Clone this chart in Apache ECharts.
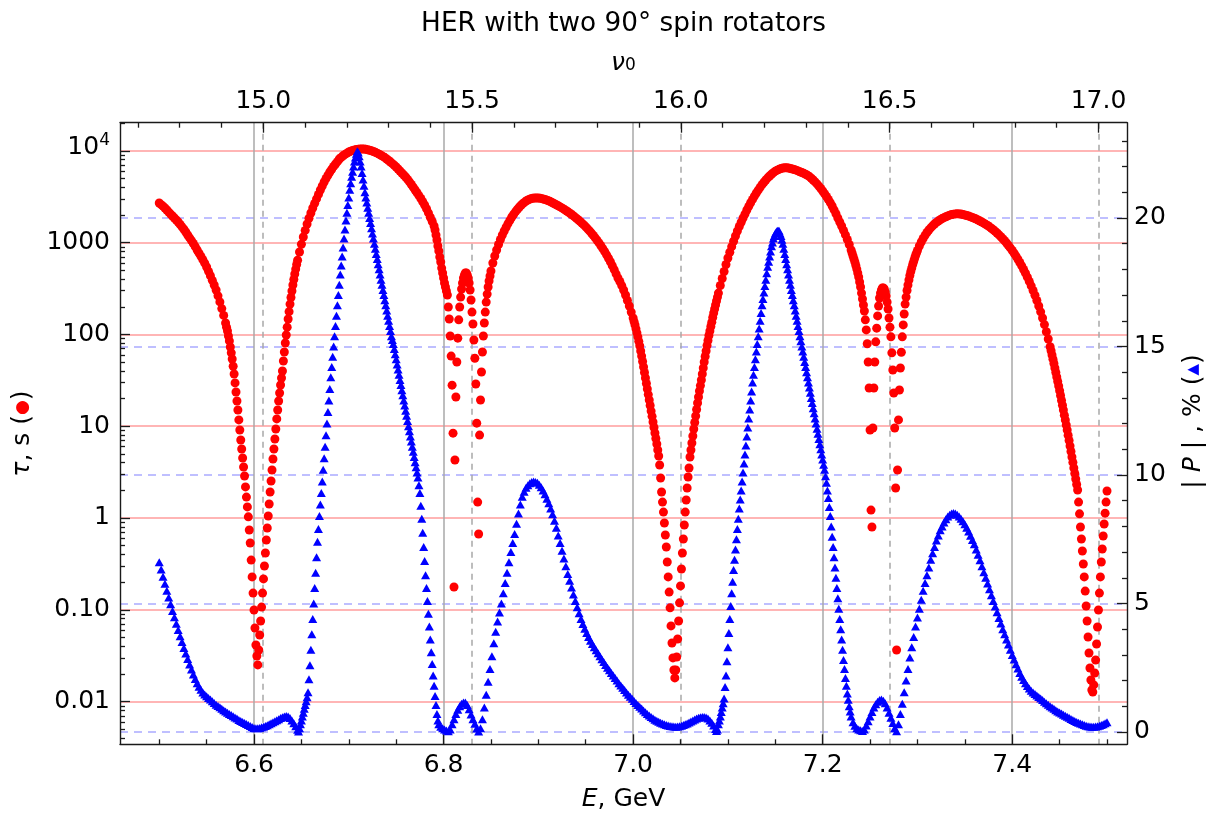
<!DOCTYPE html>
<html><head><meta charset="utf-8">
<script src="https://cdn.jsdelivr.net/npm/echarts@6/dist/echarts.min.js"></script>
<style>html,body{margin:0;padding:0;background:#fff}#c{width:1220px;height:829px}</style>
</head><body><div id="c"></div>
<script>
// ---- data: [E (GeV), tau (s)] ----
const tauPoints = [
[6.500,2700],[6.502,2590],[6.504,2495],[6.506,2380],[6.508,2265],[6.510,2150],[6.512,2046],[6.514,1950],[6.516,1853],[6.518,1762],
[6.520,1675],[6.522,1578],[6.524,1486],[6.526,1396],[6.528,1303],[6.530,1211],[6.532,1127],[6.534,1052],[6.536,977],[6.538,904],
[6.540,830],[6.542,767],[6.544,708],[6.546,652],[6.548,597],[6.550,542],[6.552,486],[6.554,436],[6.556,388],[6.558,345],
[6.560,305],[6.562,263],[6.564,226],[6.566,191],[6.568,161],[6.570,133],[6.571,120],[6.572,109],[6.573,96],[6.574,85],
[6.575,73],[6.576,63],[6.577,54],[6.578,45],[6.579,37],[6.580,29.6],[6.581,23.6],[6.582,18.8],[6.583,15.0],[6.584,11.7],
[6.585,9.1],[6.586,7.08],[6.587,5.65],[6.588,4.5],[6.589,3.59],[6.590,2.87],[6.591,2.18],[6.592,1.69],[6.593,1.32],[6.594,1.03],
[6.595,0.74],[6.596,0.534],[6.597,0.348],[6.598,0.228],[6.599,0.152],[6.600,0.0995],[6.601,0.0634],[6.602,0.0414],[6.603,0.0314],[6.604,0.0251],
[6.605,0.0365],[6.606,0.0531],[6.607,0.0755],[6.608,0.107],[6.609,0.152],[6.610,0.217],[6.611,0.300],[6.612,0.416],[6.613,0.576],[6.614,0.778],
[6.615,1.05],[6.616,1.42],[6.617,1.92],[6.618,2.53],[6.619,3.33],[6.620,4.39],[6.621,5.65],[6.622,7.26],[6.623,9.31],[6.624,12.0],
[6.625,15.0],[6.626,18.8],[6.627,23.0],[6.628,28.1],[6.629,33.5],[6.630,39.9],[6.631,51.3],[6.632,64.3],[6.633,80.5],[6.634,98.5],
[6.635,120],[6.636,147],[6.637,177],[6.638,214],[6.639,252],[6.640,297],[6.641,345],[6.642,396],[6.643,455],[6.644,515],
[6.645,577],[6.646,643],[6.648,790],[6.650,959],[6.652,1151],[6.654,1358],[6.656,1595],[6.658,1841],[6.660,2100],[6.662,2382],
[6.664,2679],[6.666,3000],[6.668,3350],[6.670,3740],[6.672,4140],[6.674,4571],[6.676,5000],[6.678,5420],[6.680,5870],[6.682,6300],
[6.684,6760],[6.686,7180],[6.688,7620],[6.690,8140],[6.692,8470],[6.694,8830],[6.696,9140],[6.698,9420],[6.700,9700],[6.702,9910],
[6.704,10090],[6.706,10230],[6.708,10350],[6.710,10420],[6.712,10470],[6.714,10470],[6.716,10440],[6.718,10380],[6.720,10280],[6.722,10140],
[6.724,10000],[6.726,9820],[6.728,9620],[6.730,9420],[6.732,9200],[6.734,8950],[6.736,8690],[6.738,8430],[6.740,8140],[6.742,7850],
[6.744,7550],[6.746,7240],[6.748,6970],[6.750,6670],[6.752,6340],[6.754,6030],[6.756,5730],[6.758,5450],[6.760,5190],[6.762,4890],
[6.764,4590],[6.766,4300],[6.768,4020],[6.770,3740],[6.772,3490],[6.774,3250],[6.776,3020],[6.778,2790],[6.780,2570],[6.782,2340],
[6.784,2110],[6.786,1890],[6.788,1700],[6.790,1517],[6.791,1371],[6.792,1211],[6.793,1067],[6.794,918],[6.795,811],[6.796,697],
[6.797,615],[6.798,528],[6.799,467],[6.800,411],[6.801,363],[6.802,328],[6.803,297],[6.804,269],[6.805,199],[6.806,147],
[6.807,96],[6.808,58],[6.809,28],[6.810,8.4],[6.811,0.177],[6.812,4.28],[6.813,20.8],[6.814,50],[6.815,91],[6.816,144],
[6.817,199],[6.818,255],[6.819,312],[6.820,363],[6.821,411],[6.822,444],[6.823,467],[6.824,467],[6.825,444],[6.826,411],
[6.827,363],[6.828,305],[6.829,237],[6.830,175],[6.831,130],[6.832,87],[6.833,55],[6.834,28.8],[6.835,10.8],[6.836,1.49],
[6.837,0.67],[6.838,8.0],[6.839,19.3],[6.840,38.9],[6.841,64.3],[6.842,96],[6.843,133],[6.844,175],[6.845,225],[6.846,275],
[6.847,328],[6.848,382],[6.849,433],[6.850,491],[6.852,600],[6.854,714],[6.856,830],[6.858,953],[6.860,1081],[6.862,1211],
[6.864,1337],[6.866,1472],[6.868,1610],[6.870,1754],[6.872,1900],[6.874,2037],[6.876,2177],[6.878,2312],[6.880,2443],[6.882,2570],
[6.884,2680],[6.886,2780],[6.888,2875],[6.890,2950],[6.892,3000],[6.894,3040],[6.896,3060],[6.898,3060],[6.900,3060],[6.902,3040],
[6.904,3010],[6.906,2970],[6.908,2925],[6.910,2875],[6.912,2820],[6.914,2755],[6.916,2685],[6.918,2620],[6.920,2555],[6.922,2485],
[6.924,2417],[6.926,2345],[6.928,2275],[6.930,2208],[6.932,2138],[6.934,2065],[6.936,1993],[6.938,1920],[6.940,1845],[6.942,1772],
[6.944,1702],[6.946,1630],[6.948,1560],[6.950,1486],[6.952,1413],[6.954,1340],[6.956,1270],[6.958,1197],[6.960,1127],[6.962,1059],
[6.964,993],[6.966,925],[6.968,861],[6.970,798],[6.972,736],[6.974,676],[6.976,618],[6.978,561],[6.980,508],[6.982,457],
[6.984,411],[6.986,377],[6.988,340],[6.990,305],[6.992,269],[6.994,234],[6.996,204],[6.998,175],[7.000,151],[7.001,138],
[7.002,127],[7.003,115],[7.004,104],[7.005,94],[7.006,84],[7.007,75],[7.008,66],[7.009,58],[7.010,50.7],[7.011,44.2],
[7.012,38.5],[7.013,33.5],[7.014,29.2],[7.015,25.4],[7.016,22.1],[7.017,19.3],[7.018,16.8],[7.019,14.6],[7.020,12.8],[7.021,11.1],
[7.022,9.68],[7.023,8.43],[7.024,7.34],[7.025,6.40],[7.026,5.51],[7.027,4.73],[7.028,3.78],[7.029,2.73],[7.030,1.92],[7.031,1.49],
[7.032,1.16],[7.033,0.883],[7.034,0.653],[7.035,0.483],[7.036,0.332],[7.037,0.228],[7.038,0.156],[7.039,0.105],[7.040,0.0667],[7.041,0.0435],
[7.042,0.0299],[7.043,0.0221],[7.044,0.0181],[7.045,0.0221],[7.046,0.0306],[7.047,0.0481],[7.048,0.0755],[7.049,0.119],[7.050,0.182],[7.051,0.278],
[7.052,0.416],[7.053,0.590],[7.054,0.839],[7.055,1.16],[7.056,1.57],[7.057,2.12],[7.058,2.80],[7.059,3.50],[7.060,4.62],[7.061,5.51],
[7.062,6.56],[7.063,7.82],[7.064,9.31],[7.065,11.0],[7.066,12.9],[7.067,15.2],[7.068,17.9],[7.069,20.8],[7.070,24.2],[7.071,27.7],
[7.072,31.9],[7.073,37.0],[7.074,43.0],[7.075,50.0],[7.076,57.4],[7.077,65.9],[7.078,75.7],[7.079,85.9],[7.080,97.3],[7.081,109],
[7.082,122],[7.083,136],[7.084,153],[7.085,171],[7.086,189],[7.087,209],[7.088,231],[7.089,255],[7.090,282],[7.092,341],
[7.094,406],[7.096,484],[7.098,577],[7.100,679],[7.102,786],[7.104,904],[7.106,1035],[7.108,1180],[7.110,1337],[7.112,1497],
[7.114,1668],[7.116,1853],[7.118,2046],[7.120,2265],[7.122,2485],[7.124,2715],[7.126,2955],[7.128,3213],[7.130,3470],[7.132,3730],
[7.134,4000],[7.136,4275],[7.138,4540],[7.140,4810],[7.142,5080],[7.144,5320],[7.146,5550],[7.148,5780],[7.150,6000],[7.152,6150],
[7.154,6280],[7.156,6400],[7.158,6480],[7.160,6520],[7.162,6520],[7.164,6480],[7.166,6420],[7.168,6340],[7.170,6250],[7.172,6150],
[7.174,6040],[7.176,5920],[7.178,5800],[7.180,5680],[7.182,5550],[7.184,5400],[7.186,5240],[7.188,5025],[7.190,4810],[7.192,4580],
[7.194,4360],[7.196,4120],[7.198,3890],[7.200,3650],[7.202,3410],[7.204,3180],[7.206,2950],[7.208,2730],[7.210,2505],[7.212,2275],
[7.214,2060],[7.216,1853],[7.218,1675],[7.220,1517],[7.222,1361],[7.224,1216],[7.226,1081],[7.228,953],[7.230,830],[7.231,771],
[7.232,714],[7.233,662],[7.234,615],[7.235,563],[7.236,515],[7.237,467],[7.238,422],[7.239,372],[7.240,328],[7.241,282],
[7.242,243],[7.243,209],[7.244,180],[7.245,144],[7.246,112],[7.247,79],[7.248,50],[7.249,26.1],[7.250,9.09],[7.251,1.22],
[7.252,0.798],[7.253,9.55],[7.254,26.1],[7.255,50],[7.256,83],[7.257,117],[7.258,159],[7.259,204],[7.260,249],[7.261,282],
[7.262,305],[7.263,320],[7.264,320],[7.265,312],[7.266,290],[7.267,262],[7.268,225],[7.269,189],[7.270,151],[7.271,120],
[7.272,94],[7.273,63],[7.274,41],[7.275,23],[7.276,9.55],[7.277,2.12],[7.278,0.0365],[7.279,3.33],[7.280,11.7],[7.281,24.8],
[7.282,43],[7.283,64],[7.284,94],[7.285,127],[7.286,167],[7.287,214],[7.288,255],[7.289,301],[7.290,345],[7.291,391],
[7.292,438],[7.293,484],[7.294,529],[7.295,577],[7.296,622],[7.297,671],[7.298,723],[7.299,771],[7.300,820],[7.302,918],
[7.304,1016],[7.306,1109],[7.308,1200],[7.310,1288],[7.312,1371],[7.314,1449],[7.316,1524],[7.318,1595],[7.320,1660],[7.322,1718],
[7.324,1775],[7.326,1825],[7.328,1871],[7.330,1914],[7.332,1954],[7.334,1990],[7.336,2018],[7.338,2040],[7.340,2055],[7.342,2060],
[7.344,2055],[7.346,2046],[7.348,2024],[7.350,2000],[7.352,1974],[7.354,1945],[7.356,1910],[7.358,1877],[7.360,1841],[7.362,1803],
[7.364,1762],[7.366,1718],[7.368,1675],[7.370,1630],[7.372,1582],[7.374,1535],[7.376,1486],[7.378,1435],[7.380,1380],[7.382,1327],
[7.384,1271],[7.386,1216],[7.388,1159],[7.390,1102],[7.392,1047],[7.394,990],[7.396,931],[7.398,875],[7.400,820],[7.402,766],
[7.404,713],[7.406,659],[7.408,608],[7.410,558],[7.412,510],[7.414,465],[7.416,420],[7.418,378],[7.420,338],[7.422,301],
[7.424,267],[7.426,234],[7.428,204],[7.430,176],[7.432,151],[7.434,128],[7.436,107],[7.438,89],[7.440,73.3],[7.441,66.3],
[7.442,59.7],[7.443,53.7],[7.444,48.2],[7.445,43.0],[7.446,38.5],[7.447,34.4],[7.448,30.7],[7.449,27.4],[7.450,24.4],[7.451,21.6],
[7.452,19.1],[7.453,16.9],[7.454,15.0],[7.455,13.2],[7.456,11.7],[7.457,10.3],[7.458,9.10],[7.459,7.98],[7.460,6.98],[7.461,6.08],
[7.462,5.30],[7.463,4.62],[7.464,4.03],[7.465,3.50],[7.466,3.05],[7.467,2.66],[7.468,2.32],[7.469,2.02],[7.470,1.49],[7.471,1.11],
[7.472,0.798],[7.473,0.590],[7.474,0.437],[7.475,0.315],[7.476,0.228],[7.477,0.160],[7.478,0.110],[7.479,0.0755],[7.480,0.0506],[7.481,0.0338],
[7.482,0.0232],[7.483,0.0172],[7.484,0.0134],[7.485,0.0127],[7.486,0.0152],[7.487,0.0205],[7.488,0.0284],[7.489,0.0424],[7.490,0.0650],[7.491,0.0995],
[7.492,0.152],[7.493,0.228],[7.494,0.332],[7.495,0.460],[7.496,0.637],[7.497,0.861],[7.498,1.13],[7.499,1.49],[7.500,1.97]
];
// ---- [E (GeV), |P| (%)] ----
const polPoints = [
[6.500,6.6],[6.502,6.32],[6.504,6.04],[6.506,5.77],[6.508,5.5],[6.510,5.23],[6.512,4.97],[6.514,4.71],[6.516,4.46],[6.518,4.21],
[6.520,3.97],[6.522,3.73],[6.524,3.5],[6.526,3.27],[6.528,3.05],[6.530,2.84],[6.532,2.63],[6.534,2.43],[6.536,2.24],[6.538,2.06],
[6.540,1.9],[6.542,1.76],[6.544,1.64],[6.546,1.54],[6.548,1.46],[6.550,1.39],[6.552,1.32],[6.554,1.26],[6.556,1.2],[6.558,1.13],
[6.560,1.06],[6.562,1.01],[6.564,0.96],[6.566,0.9],[6.568,0.85],[6.570,0.8],[6.572,0.75],[6.574,0.7],[6.576,0.66],[6.578,0.61],
[6.580,0.56],[6.582,0.52],[6.584,0.47],[6.586,0.43],[6.588,0.39],[6.590,0.35],[6.592,0.31],[6.594,0.27],[6.596,0.23],[6.598,0.19],
[6.600,0.16],[6.602,0.15],[6.604,0.15],[6.606,0.16],[6.608,0.18],[6.610,0.2],[6.612,0.23],[6.614,0.26],[6.616,0.3],[6.618,0.34],
[6.620,0.38],[6.622,0.42],[6.624,0.46],[6.626,0.5],[6.628,0.54],[6.630,0.57],[6.632,0.6],[6.634,0.62],[6.636,0.6],[6.638,0.54],
[6.640,0.45],[6.642,0.34],[6.644,0.22],[6.646,0.09],[6.647,0.02],[6.648,0.15],[6.649,0.3],[6.650,0.45],[6.651,0.6],[6.652,0.75],
[6.653,0.9],[6.654,1.05],[6.655,1.2],[6.656,1.35],[6.657,1.55],[6.658,2.05],[6.659,2.6],[6.660,3.2],[6.661,3.8],[6.662,4.4],
[6.663,5.0],[6.664,5.6],[6.665,6.2],[6.666,6.8],[6.667,7.4],[6.668,7.9],[6.669,8.4],[6.670,8.85],[6.671,9.3],[6.672,9.75],
[6.673,10.2],[6.674,10.65],[6.675,11.1],[6.676,11.55],[6.677,12.0],[6.678,12.45],[6.679,12.9],[6.680,13.35],[6.681,13.8],[6.682,14.2],
[6.683,14.6],[6.684,15.0],[6.685,15.4],[6.686,15.8],[6.687,16.2],[6.688,16.6],[6.689,17.0],[6.690,17.4],[6.691,17.8],[6.692,18.15],
[6.693,18.5],[6.694,18.85],[6.695,19.2],[6.696,19.55],[6.697,19.9],[6.698,20.2],[6.699,20.5],[6.700,20.8],[6.701,21.1],[6.702,21.35],
[6.703,21.6],[6.704,21.8],[6.705,22.0],[6.706,22.2],[6.707,22.35],[6.708,22.5],[6.709,22.6],[6.710,22.55],[6.711,22.4],[6.712,22.2],
[6.713,22.0],[6.714,21.75],[6.715,21.5],[6.716,21.25],[6.717,21.0],[6.718,20.8],[6.719,20.6],[6.720,20.4],[6.721,20.2],[6.722,20.0],
[6.723,19.8],[6.724,19.6],[6.725,19.4],[6.726,19.2],[6.727,19.0],[6.728,18.8],[6.729,18.6],[6.730,18.4],[6.731,18.2],[6.732,18.0],
[6.733,17.8],[6.734,17.6],[6.735,17.4],[6.736,17.2],[6.737,17.0],[6.738,16.8],[6.739,16.6],[6.740,16.4],[6.741,16.2],[6.742,16.0],
[6.743,15.8],[6.744,15.6],[6.745,15.4],[6.746,15.25],[6.747,15.1],[6.748,14.9],[6.749,14.7],[6.750,14.5],[6.751,14.3],[6.752,14.1],
[6.753,13.9],[6.754,13.7],[6.755,13.5],[6.756,13.3],[6.757,13.1],[6.758,12.9],[6.759,12.7],[6.760,12.5],[6.761,12.3],[6.762,12.1],
[6.763,11.9],[6.764,11.7],[6.765,11.5],[6.766,11.3],[6.767,11.1],[6.768,10.9],[6.769,10.7],[6.770,10.5],[6.771,10.3],[6.772,10.1],
[6.773,9.9],[6.774,9.6],[6.775,9.3],[6.776,8.8],[6.777,8.3],[6.778,7.75],[6.779,7.2],[6.780,6.65],[6.781,6.1],[6.782,5.6],
[6.783,5.1],[6.784,4.6],[6.785,4.1],[6.786,3.6],[6.787,3.1],[6.788,2.65],[6.789,2.2],[6.790,1.8],[6.791,1.4],[6.792,1.05],
[6.793,0.7],[6.794,0.45],[6.795,0.3],[6.797,0.2],[6.799,0.15],[6.801,0.1],[6.803,0.06],[6.805,0.03],[6.807,0.1],[6.809,0.3],
[6.811,0.5],[6.813,0.7],[6.815,0.87],[6.817,1.0],[6.819,1.1],[6.821,1.15],[6.823,1.15],[6.825,1.05],[6.827,0.88],[6.829,0.68],
[6.831,0.5],[6.833,0.32],[6.835,0.14],[6.837,0.02],[6.839,0.15],[6.841,0.5],[6.843,0.95],[6.845,1.45],[6.847,1.95],[6.849,2.45],
[6.851,2.95],[6.853,3.45],[6.855,3.9],[6.857,4.3],[6.859,4.65],[6.861,5.0],[6.863,5.4],[6.865,5.8],[6.867,6.2],[6.869,6.6],
[6.871,7.0],[6.873,7.35],[6.875,7.7],[6.877,8.1],[6.879,8.5],[6.881,8.85],[6.883,9.15],[6.885,9.35],[6.887,9.5],[6.889,9.6],
[6.891,9.68],[6.893,9.73],[6.895,9.75],[6.897,9.73],[6.899,9.7],[6.901,9.62],[6.903,9.52],[6.905,9.4],[6.907,9.25],[6.909,9.08],
[6.911,8.9],[6.913,8.7],[6.915,8.47],[6.917,8.22],[6.919,7.95],[6.921,7.65],[6.923,7.35],[6.925,7.05],[6.927,6.75],[6.929,6.45],
[6.931,6.15],[6.933,5.88],[6.935,5.62],[6.937,5.35],[6.939,5.1],[6.941,4.85],[6.943,4.62],[6.945,4.4],[6.947,4.2],[6.949,4.02],
[6.951,3.85],[6.953,3.7],[6.955,3.55],[6.957,3.42],[6.959,3.3],[6.961,3.18],[6.963,3.06],[6.965,2.95],[6.967,2.83],[6.969,2.72],
[6.971,2.61],[6.973,2.5],[6.975,2.4],[6.977,2.3],[6.979,2.2],[6.981,2.1],[6.983,2.0],[6.985,1.9],[6.987,1.81],[6.989,1.72],
[6.991,1.63],[6.993,1.54],[6.995,1.45],[6.997,1.37],[6.999,1.29],[7.001,1.21],[7.003,1.13],[7.005,1.05],[7.007,0.98],[7.009,0.91],
[7.011,0.84],[7.013,0.77],[7.015,0.7],[7.017,0.64],[7.019,0.58],[7.021,0.53],[7.023,0.48],[7.025,0.44],[7.027,0.4],[7.029,0.36],
[7.031,0.33],[7.033,0.3],[7.035,0.27],[7.037,0.25],[7.039,0.23],[7.041,0.22],[7.043,0.21],[7.045,0.2],[7.047,0.21],[7.049,0.22],
[7.051,0.24],[7.053,0.27],[7.055,0.3],[7.057,0.33],[7.059,0.37],[7.061,0.41],[7.063,0.45],[7.065,0.49],[7.067,0.52],[7.069,0.55],
[7.071,0.57],[7.073,0.58],[7.075,0.58],[7.077,0.56],[7.079,0.52],[7.081,0.45],[7.083,0.36],[7.085,0.25],[7.087,0.12],[7.088,0.04],
[7.089,0.1],[7.090,0.3],[7.091,0.45],[7.092,0.6],[7.093,0.78],[7.094,0.95],[7.095,1.12],[7.096,1.3],[7.097,1.75],[7.098,2.2],
[7.099,2.75],[7.100,3.3],[7.101,3.85],[7.102,4.4],[7.103,4.9],[7.104,5.4],[7.105,5.85],[7.106,6.3],[7.107,6.7],[7.108,7.1],
[7.109,7.5],[7.110,7.9],[7.111,8.3],[7.112,8.7],[7.113,9.05],[7.114,9.4],[7.115,9.75],[7.116,10.1],[7.117,10.45],[7.118,10.8],
[7.119,11.15],[7.120,11.5],[7.121,11.85],[7.122,12.2],[7.123,12.55],[7.124,12.9],[7.125,13.25],[7.126,13.6],[7.127,13.9],[7.128,14.2],
[7.129,14.5],[7.130,14.8],[7.131,15.1],[7.132,15.4],[7.133,15.7],[7.134,16.0],[7.135,16.3],[7.136,16.6],[7.137,16.85],[7.138,17.1],
[7.139,17.35],[7.140,17.6],[7.141,17.85],[7.142,18.1],[7.143,18.3],[7.144,18.5],[7.145,18.7],[7.146,18.9],[7.147,19.05],[7.148,19.2],
[7.149,19.3],[7.150,19.4],[7.151,19.45],[7.152,19.5],[7.153,19.5],[7.154,19.5],[7.155,19.4],[7.156,19.3],[7.157,19.15],[7.158,19.0],
[7.159,18.8],[7.160,18.6],[7.161,18.4],[7.162,18.2],[7.163,18.0],[7.164,17.8],[7.165,17.6],[7.166,17.4],[7.167,17.2],[7.168,17.0],
[7.169,16.8],[7.170,16.6],[7.171,16.4],[7.172,16.2],[7.173,16.0],[7.174,15.8],[7.175,15.6],[7.176,15.4],[7.177,15.2],[7.178,15.0],
[7.179,14.8],[7.180,14.6],[7.181,14.4],[7.182,14.2],[7.183,14.0],[7.184,13.8],[7.185,13.6],[7.186,13.4],[7.187,13.2],[7.188,13.0],
[7.189,12.8],[7.190,12.6],[7.191,12.4],[7.192,12.2],[7.193,12.0],[7.194,11.8],[7.195,11.6],[7.196,11.4],[7.197,11.2],[7.198,11.0],
[7.199,10.8],[7.200,10.6],[7.201,10.4],[7.202,10.2],[7.203,9.95],[7.204,9.7],[7.205,9.4],[7.206,9.1],[7.207,8.75],[7.208,8.4],
[7.209,8.0],[7.210,7.6],[7.211,7.2],[7.212,6.8],[7.213,6.4],[7.214,6.0],[7.215,5.6],[7.216,5.2],[7.217,4.8],[7.218,4.4],
[7.219,4.0],[7.220,3.6],[7.221,3.2],[7.222,2.8],[7.223,2.45],[7.224,2.1],[7.225,1.8],[7.226,1.5],[7.227,1.25],[7.228,1.0],
[7.229,0.8],[7.230,0.6],[7.232,0.38],[7.234,0.24],[7.236,0.15],[7.238,0.1],[7.240,0.07],[7.242,0.04],[7.244,0.1],[7.246,0.25],
[7.248,0.42],[7.250,0.6],[7.252,0.78],[7.254,0.95],[7.256,1.08],[7.258,1.18],[7.260,1.24],[7.262,1.26],[7.264,1.22],[7.266,1.12],
[7.268,0.95],[7.270,0.75],[7.272,0.55],[7.274,0.35],[7.276,0.15],[7.278,0.03],[7.280,0.3],[7.282,0.7],[7.284,1.1],[7.286,1.55],
[7.288,2.0],[7.290,2.45],[7.292,2.9],[7.294,3.3],[7.296,3.7],[7.298,4.1],[7.300,4.45],[7.302,4.8],[7.304,5.15],[7.306,5.5],
[7.308,5.8],[7.310,6.1],[7.312,6.4],[7.314,6.7],[7.316,6.95],[7.318,7.2],[7.320,7.45],[7.322,7.65],[7.324,7.85],[7.326,8.0],
[7.328,8.15],[7.330,8.28],[7.332,8.38],[7.334,8.45],[7.336,8.5],[7.338,8.52],[7.340,8.5],[7.342,8.45],[7.344,8.38],[7.346,8.3],
[7.348,8.2],[7.350,8.08],[7.352,7.95],[7.354,7.8],[7.356,7.64],[7.358,7.47],[7.360,7.3],[7.362,7.1],[7.364,6.9],[7.366,6.68],
[7.368,6.45],[7.370,6.22],[7.372,6.0],[7.374,5.78],[7.376,5.55],[7.378,5.32],[7.380,5.1],[7.382,4.88],[7.384,4.66],[7.386,4.44],
[7.388,4.22],[7.390,4.0],[7.392,3.8],[7.394,3.6],[7.396,3.4],[7.398,3.2],[7.400,3.0],[7.402,2.82],[7.404,2.64],[7.406,2.47],
[7.408,2.3],[7.410,2.15],[7.412,2.02],[7.414,1.9],[7.416,1.79],[7.418,1.69],[7.420,1.6],[7.422,1.54],[7.424,1.48],[7.426,1.42],
[7.428,1.36],[7.430,1.3],[7.432,1.24],[7.434,1.18],[7.436,1.12],[7.438,1.06],[7.440,1.0],[7.442,0.95],[7.444,0.9],[7.446,0.85],
[7.448,0.8],[7.450,0.76],[7.452,0.72],[7.454,0.67],[7.456,0.63],[7.458,0.59],[7.460,0.55],[7.462,0.51],[7.464,0.47],[7.466,0.43],
[7.468,0.39],[7.470,0.36],[7.472,0.33],[7.474,0.3],[7.476,0.27],[7.478,0.24],[7.480,0.22],[7.482,0.21],[7.484,0.2],[7.486,0.2],
[7.488,0.21],[7.490,0.22],[7.492,0.24],[7.494,0.27],[7.496,0.3],[7.498,0.34],[7.500,0.38]
];

// ---- axis ticks / labels ----
const eTicks = [6.6, 6.8, 7.0, 7.2, 7.4];
const eMinorTicks = [6.5, 6.55, 6.65, 6.7, 6.75, 6.85, 6.9, 6.95, 7.05, 7.1, 7.15, 7.25, 7.3, 7.35, 7.45, 7.5];
const nuTicks = [15.0, 15.5, 16.0, 16.5, 17.0];
const nuMinorTicks = [14.7, 14.8, 14.9, 15.1, 15.2, 15.3, 15.4, 15.6, 15.7, 15.8, 15.9, 16.1, 16.2, 16.3, 16.4, 16.6, 16.7, 16.8, 16.9];
const tauTicks = [0.01, 0.1, 1, 10, 100, 1000, 10000];
const tauTickLabels = ['0.01', '0.10', '1', '10', '100', '1000', '{b|10}{s|4}'];
const tauMinorTicks = [0.004,0.005,0.006,0.007,0.008,0.009,0.02,0.03,0.04,0.05,0.06,0.07,0.08,0.09,
  0.2,0.3,0.4,0.5,0.6,0.7,0.8,0.9,2,3,4,5,6,7,8,9,20,30,40,50,60,70,80,90,
  200,300,400,500,600,700,800,900,2000,3000,4000,5000,6000,7000,8000,9000,20000];
const polTicks = [0, 5, 10, 15, 20];
const polMinorTicks = [1,2,3,4,6,7,8,9,11,12,13,14,16,17,18,19,21,22,23];

// axis ranges
const E_MIN = 6.4586, E_MAX = 7.5211;
const E_PER_NU = 0.440649;
const TAU_MIN = 0.003426, TAU_MAX = 20240;
const POL_MIN = -0.479, POL_MAX = 23.707;

const FONT = "'DejaVu Sans', sans-serif";
const FRAME = { color: '#1a1a1a', width: 1.4 };
const TICKSTYLE = { color: '#1a1a1a', width: 1.3 };

const chart = echarts.init(document.getElementById('c'), null, { renderer: 'canvas' });

function findIdx(arr, v) {
  for (let i = 0; i < arr.length; i++) {
    if (Math.abs(Math.log10(arr[i]) - Math.log10(v)) < 1e-6) return i;
  }
  return -1;
}

const option = {
  animation: false,
  backgroundColor: '#ffffff',
  title: {
    text: 'HER with two 90° spin rotators',
    left: 623.5, top: 11, padding: 0, textAlign: 'center',
    textStyle: { fontFamily: FONT, fontSize: 26.3, fontWeight: 'normal', color: '#000' }
  },
  grid: { left: 120, right: 93, top: 122.7, bottom: 84.7, containLabel: false, outerBoundsMode: 'none' },
  xAxis: [
    {
      type: 'value', position: 'bottom', min: E_MIN, max: E_MAX,
      axisLine: { show: true, onZero: false, lineStyle: FRAME },
      axisTick: { show: true, inside: true, length: 10, customValues: eTicks, lineStyle: TICKSTYLE },
      axisLabel: { show: true, customValues: eTicks, formatter: v => v.toFixed(1), fontFamily: FONT, fontSize: 25, color: '#000', margin: 9 },
      splitLine: { show: true, lineStyle: { color: '#a8a8a8', width: 1.5 } },
      name: '{i|E}, GeV', nameLocation: 'middle', nameGap: 43,
      nameTextStyle: { fontFamily: FONT, fontSize: 25, color: '#000', rich: { i: { fontFamily: FONT, fontSize: 25, fontStyle: 'italic', color: '#000' } } }
    },
    {
      type: 'value', position: 'bottom', min: E_MIN, max: E_MAX,
      axisLine: { show: false, onZero: false },
      axisTick: { show: true, inside: true, length: 5, customValues: eMinorTicks, lineStyle: TICKSTYLE },
      axisLabel: { show: false }, splitLine: { show: false }
    },
    {
      type: 'value', position: 'top', min: E_MIN / E_PER_NU, max: E_MAX / E_PER_NU,
      axisLine: { show: true, onZero: false, lineStyle: FRAME },
      axisTick: { show: true, inside: true, length: 10, customValues: nuTicks, lineStyle: TICKSTYLE },
      axisLabel: { show: true, customValues: nuTicks, formatter: v => v.toFixed(1), fontFamily: FONT, fontSize: 25, color: '#000', margin: 9 },
      splitLine: { show: true, lineStyle: { color: '#a8a8a8', width: 1.5, type: [6, 5] } },
      name: '{n|ν}{s|0}', nameLocation: 'middle', nameGap: 43,
      nameTextStyle: { fontFamily: FONT, fontSize: 25, color: '#000',
        rich: { n: { fontFamily: FONT, fontSize: 25, fontStyle: 'italic', color: '#000', padding: [0, 0, 4, 0] },
                s: { fontFamily: FONT, fontSize: 17, color: '#000' } } }
    },
    {
      type: 'value', position: 'top', min: E_MIN / E_PER_NU, max: E_MAX / E_PER_NU,
      axisLine: { show: false, onZero: false },
      axisTick: { show: true, inside: true, length: 5, customValues: nuMinorTicks, lineStyle: TICKSTYLE },
      axisLabel: { show: false }, splitLine: { show: false }
    }
  ],
  yAxis: [
    {
      type: 'log', logBase: 10, position: 'left', min: TAU_MIN, max: TAU_MAX,
      axisLine: { show: true, onZero: false, lineStyle: FRAME },
      axisTick: { show: true, inside: true, length: 10, customValues: tauTicks, lineStyle: TICKSTYLE },
      axisLabel: { show: true, customValues: tauTicks, margin: 10, fontFamily: FONT, fontSize: 25, color: '#000',
        formatter: v => { const i = findIdx(tauTicks, v); return i >= 0 ? tauTickLabels[i] : ''; },
        rich: { b: { fontFamily: FONT, fontSize: 25, color: '#000', padding: [0, 0, 6, 0] },
                s: { fontFamily: FONT, fontSize: 17, color: '#000', padding: [0, 0, 20, 0] } } },
      splitLine: { show: true, lineStyle: { color: '#ff9c9c', width: 1.5 } },
      name: '{i|τ}, s ({r|●})', nameLocation: 'middle', nameGap: 81, nameRotate: 90,
      nameTextStyle: { fontFamily: FONT, fontSize: 25, color: '#000',
        rich: { i: { fontFamily: FONT, fontSize: 25, fontStyle: 'italic', color: '#000' },
                r: { fontFamily: FONT, fontSize: 17, color: '#ff0000' } } }
    },
    {
      type: 'log', logBase: 10, position: 'left', min: TAU_MIN, max: TAU_MAX,
      axisLine: { show: false, onZero: false },
      axisTick: { show: true, inside: true, length: 5, customValues: tauMinorTicks, lineStyle: TICKSTYLE },
      axisLabel: { show: false }, splitLine: { show: false }
    },
    {
      type: 'value', position: 'right', min: POL_MIN, max: POL_MAX,
      axisLine: { show: true, onZero: false, lineStyle: FRAME },
      axisTick: { show: true, inside: true, length: 10, customValues: polTicks, lineStyle: TICKSTYLE },
      axisLabel: { show: true, customValues: polTicks, margin: 7, fontFamily: FONT, fontSize: 25, color: '#000',
        formatter: v => String(Math.round(v)) },
      splitLine: { show: true, lineStyle: { color: '#aaaaff', width: 1.5, type: [8, 6] } },
      name: '| {i|P} | , % ({b|▲})', nameLocation: 'middle', nameGap: 54, nameRotate: 90,
      nameTextStyle: { fontFamily: FONT, fontSize: 25, color: '#000', padding: [0, 0, 0, 24],
        rich: { i: { fontFamily: FONT, fontSize: 25, fontStyle: 'italic', color: '#000' },
                b: { fontFamily: FONT, fontSize: 15, color: '#0000ff' } } }
    },
    {
      type: 'value', position: 'right', min: POL_MIN, max: POL_MAX,
      axisLine: { show: false, onZero: false },
      axisTick: { show: true, inside: true, length: 5, customValues: polMinorTicks, lineStyle: TICKSTYLE },
      axisLabel: { show: false }, splitLine: { show: false }
    }
  ],
  series: [
    {
      name: 'tau', type: 'scatter', xAxisIndex: 0, yAxisIndex: 0, z: 3,
      symbol: 'circle', symbolSize: 9,
      itemStyle: { color: '#ff0000', opacity: 1 },
      data: tauPoints
    },
    {
      name: 'pol', type: 'scatter', xAxisIndex: 0, yAxisIndex: 2, z: 4,
      symbol: 'triangle', symbolSize: [9, 8],
      itemStyle: { color: '#0000ff', opacity: 1 },
      data: polPoints
    }
  ]
};
chart.setOption(option);
</script>
</body></html>
